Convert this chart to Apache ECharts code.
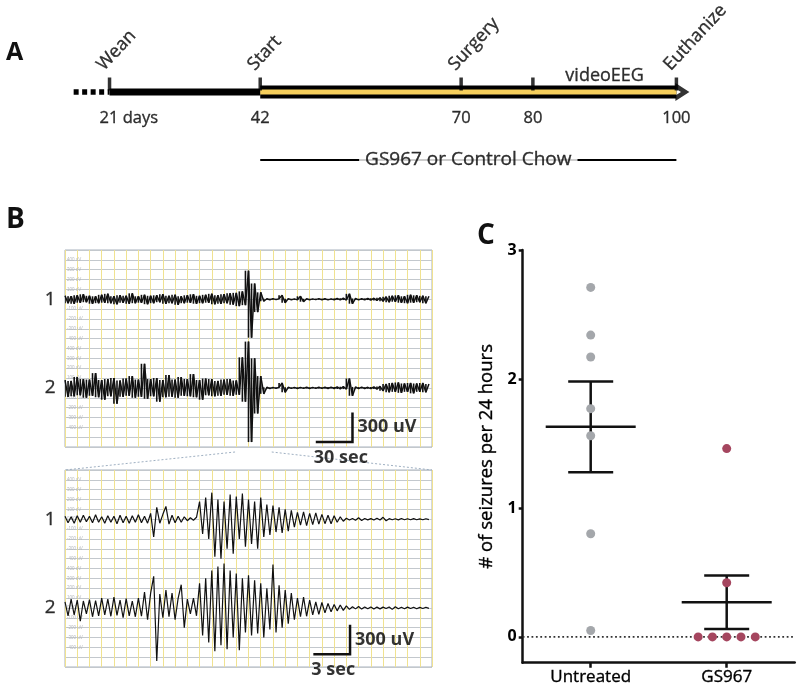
<!DOCTYPE html>
<html><head><meta charset="utf-8">
<script src="https://cdn.jsdelivr.net/npm/echarts@6/dist/echarts.min.js"></script>
<style>html,body{margin:0;padding:0;background:#fff}#c{width:800px;height:686px}</style>
</head><body><div id="c"></div>
<script>
// ---------------- DATA ----------------
// Panel A: experimental timeline (days of age)
const timelineDays = [21, 42, 70, 80, 100];
const timelineEvents = ['Wean', 'Start', 'Surgery', '', 'Euthanize'];
const timelineDayLabels = ['21 days', '42', '70', '80', '100'];
const preWeanDays = [16, 21];
const weanToStartDays = [21, 42];
const treatmentDays = [42, 100];
const videoEEGDays = [80, 100];
const videoEEGLabel = 'videoEEG';
const chowLabel = 'GS967 or Control Chow';

// Panel B: EEG traces (uV deviation from channel baseline)
const eegTopStepSec = 2.5;
const eegTopCh1 = [35,-40,30,-45,40,-35,50,-30,35,-45, 30,-40,45,-35,55,-40,30,-50,40,-35, 35,-45,60,-40,30,-35,45,-50,35,-40, 40,-30,50,-45,35,-40,45,-55,30,-40, 40,-35,50,-45,35,-40,45,-35,55,-50, 40,-45,50,-40,60,-55,
  65,-70,80,-60, 290,-390,160,-130,70,-20,
  5,-5,6,-4,5,40,-35,6,-5,4,-6,30,-25,5,-5,4,-4,6,-5,5,-6,4,-5,8,-6,10,-8,55,-45,8,-6,5,-5,8,-8,10,-12,15,
  -20,25,-30,35,-25,40,-35,30,-40,45,-35,40,-30,35,-40,30];
const eegTopCh2 = [80,-90,70,-85,110,-75,90,-100,85,-80, 150,-95,80,-120,90,-85,100,-160,75,-90, 95,-80,120,-100,85,-90,245,-110,90,-85, 100,-140,80,-95,130,-90,85,-100,110,-80, 90,-85,140,-95,80,-120,95,-75,90,-85, 70,-80,85,-70,90,-80,75,-70,
  310,-140, 470,-550,300,-260,120,-60,
  6,-6,5,-5,6,50,-45,6,-5,5,-6,5,-5,6,-6,5,-5,6,-5,6,-6,8,-6,10,-10,12,-12,95,-80,10,-8,8,-6,6,-8,10,-12,15,
  -30,40,-45,50,-40,55,-50,45,-40,50,-55,45,-40,50,-45,40];
const eegZoomStepSec = 0.25;
const eegZoomCh1 = [30,-35,25,-40,35,-30,40,-25,30,-35,45,-30,25,-40,35,-30,30,-45,40,-35,30,-40,35,-30,45,-35,30,-40,
  60,-180,120,-40,50,130,-50,40,-35,30,-30,25,-15,15,-10,20,
  180,-150,220,-200,270,-380,200,-400,180,-300,250,-350,230,-200,260,-280,200,-250,180,-300,220,-180,150,-160,140,-130,120,-140,100,-120,90,-80,
  70,-60,75,-65,60,-55,65,-50,50,-45,40,-45,35,-30,25,-20,
  10,-8,8,-10,15,-12,8,-6,6,-8,10,-8,20,-15,6,-5,5,-6,8,-5,5,-5,6,-5,4,-5,5,-4];
const eegZoomCh2 = [60,-80,90,-70,80,-135,70,-60,85,-90, 75,-80,100,-70,90,-85,110,-75,80,-100, 95,-80,70,-90,100,-85,160,-120,150,320, -540,140,-100,180,-90,150,-120,100,235,-200, 90,-60,100,-80,
  250,-280,300,-350,380,-440,420,-380,450,-420, 380,-300,350,-430,300,-250,330,-280,280,-260, 250,-300,200,-220,440,-250,230,-200,180,-160, 150,
  -120,100,-90,110,-85,80,-70,60,-65,55,-50,45,-40,35,-30,30,-25,20,
  -15,12,-10,15,-12,10,-8,10,-12,8,-10,8,-6,10,-15,12,-8,6,-8,8,-6,6,-8,5,-6,6,-5];
const eegZoomWindowSec = [139, 169];
const channelNames = ['1', '2'];
const scaleTop = { sec: 30, uV: 300, secLabel: '30 sec', uVLabel: '300 uV' };
const scaleZoom = { sec: 3, uV: 300, secLabel: '3 sec', uVLabel: '300 uV' };

// Panel C: seizures per 24 h
const groupNames = ['Untreated', 'GS967'];
const untreatedValues = [2.71, 2.34, 2.17, 1.77, 1.56, 0.80, 0.05];
const gs967Values = [1.46, 0.42, 0, 0, 0, 0, 0];
const yTicksC = [0, 1, 2, 3];
const yAxisNameC = '# of seizures per 24 hours';

// ---------------- LAYOUT / STYLE ----------------
const F = 'Open Sans';
const INK = '#000';
const THICK = { textBorderColor: '#000', textBorderWidth: 0.35 };
const LA = { evtY: 71, lineY: 92, dayY: 118, videoY: 76, chowY: 160 };
const CH_BASE = [1500, 600];
const TOP_SCALE_AT = [235, 50];
const ZOOM_SCALE_AT = [23.3, 130];
const GRID_YELLOW = '#f0e290';
const GRID_GRAY = '#c3c8cd';

function stats(arr) {
  const n = arr.length, m = arr.reduce((a, b) => a + b, 0) / n;
  const sd = Math.sqrt(arr.reduce((a, b) => a + (b - m) * (b - m), 0) / (n - 1));
  const se = sd / Math.sqrt(n);
  return [m, m - se, m + se];
}
function swarm(values, center, step) {
  const counts = {}, seen = {};
  values.forEach(v => counts[v] = (counts[v] || 0) + 1);
  return values.map(v => {
    const k = counts[v]; const j = seen[v] = (seen[v] === undefined ? 0 : seen[v] + 1);
    return [center + (j - (k - 1) / 2) * step, v];
  });
}
function trace(values, step, base) { return values.map((v, i) => [i * step, base + v]); }

const groupX = [1, 3];
const groups = [untreatedValues, gs967Values];
const statData = groups.map((g, i) => [groupX[i], ...stats(g)]);

const chart = echarts.init(document.getElementById('c'));
const txt = (size, extra) => Object.assign({ fontFamily: F, fontSize: size, color: INK }, THICK, extra || {});

const series = [];
// ---- Panel A
series.push({ type: 'line', xAxisIndex: 0, yAxisIndex: 0, symbol: 'none', data: preWeanDays.map(d => [d, LA.lineY]),
  lineStyle: { color: '#000', width: 5.5, type: [5, 3.5], cap: 'butt' }, z: 2 });
series.push({ type: 'line', xAxisIndex: 0, yAxisIndex: 0, symbol: 'none', data: weanToStartDays.map(d => [d, LA.lineY]),
  lineStyle: { color: '#000', width: 7, cap: 'butt' }, z: 2 });
series.push({ type: 'line', xAxisIndex: 0, yAxisIndex: 0, symbol: 'none', data: treatmentDays.map(d => [d, LA.lineY]),
  lineStyle: { color: '#000', width: 13, cap: 'butt' }, z: 2 });
series.push({ type: 'line', xAxisIndex: 0, yAxisIndex: 0, symbol: 'none', data: treatmentDays.map(d => [d, LA.lineY]),
  lineStyle: { color: '#f6cf5c', width: 5, cap: 'butt' }, z: 3 });
series.push({ type: 'scatter', xAxisIndex: 0, yAxisIndex: 0, data: [[treatmentDays[1], LA.lineY]],
  symbol: 'path://M0,0 L10,9 L0,18 L0,12.5 L4,9 L0,5.5 Z', symbolSize: [14, 18], symbolOffset: [6, 0], symbolKeepAspect: false,
  itemStyle: { color: '#000' }, z: 4 });
series.push({ type: 'scatter', xAxisIndex: 0, yAxisIndex: 0, data: timelineDays.map(d => [d, LA.lineY]),
  symbol: 'rect', symbolSize: [3.5, 13], symbolOffset: [0, -8], itemStyle: { color: '#000' }, z: 5 });
series.push({ type: 'scatter', xAxisIndex: 0, yAxisIndex: 0, symbolSize: 1, itemStyle: { color: 'transparent' },
  data: timelineDays.map((d, i) => ({ value: [d, LA.dayY], name: timelineDayLabels[i],
    label: i === 0 ? { align: 'left', offset: [-10, 0] } : {} })),
  label: Object.assign({ show: true, position: 'inside', formatter: p => p.name }, txt(16.5)), z: 5 });
series.push({ type: 'scatter', xAxisIndex: 0, yAxisIndex: 0, symbolSize: 1, itemStyle: { color: 'transparent' },
  data: timelineDays.map((d, i) => ({ value: [d, LA.evtY], name: timelineEvents[i] })).filter(o => o.name),
  label: Object.assign({ show: true, position: 'inside', rotate: 47, align: 'left', verticalAlign: 'bottom', offset: [-4, 0], formatter: p => p.name }, txt(18)), z: 5 });
series.push({ type: 'scatter', xAxisIndex: 0, yAxisIndex: 0, symbolSize: 1, itemStyle: { color: 'transparent' },
  data: [{ value: [(videoEEGDays[0] + videoEEGDays[1]) / 2, LA.videoY], name: videoEEGLabel }],
  label: Object.assign({ show: true, position: 'inside', formatter: p => p.name }, txt(18)), z: 5 });
series.push({ type: 'line', xAxisIndex: 0, yAxisIndex: 0, symbol: 'none', data: treatmentDays.map(d => [d, LA.chowY]),
  lineStyle: { color: '#000', width: 2 }, z: 2 });
series.push({ type: 'scatter', xAxisIndex: 0, yAxisIndex: 0, symbolSize: 1, itemStyle: { color: 'transparent' },
  data: [{ value: [(treatmentDays[0] + treatmentDays[1]) / 2, LA.chowY], name: chowLabel }],
  label: Object.assign({ show: true, position: 'inside', formatter: p => p.name, backgroundColor: '#fff', padding: [2, 6] }, txt(19)), z: 6 });

// ---- Panel B
// compressed (5 min) view: zigzag trace plus a hairline column spanning each pair of successive samples
function columns(axis, vals, step, base) {
  const data = vals.slice(0, -1).map((v, i) => [i * step, base + v, base + vals[i + 1]]);
  return { type: 'custom', xAxisIndex: axis, yAxisIndex: axis, data, z: 3, clip: true,
    renderItem(params, api) {
      const a = api.coord([api.value(0), api.value(1)]), b = api.coord([api.value(0), api.value(2)]);
      return { type: 'line', shape: { x1: a[0], y1: a[1], x2: b[0], y2: b[1] }, style: { stroke: '#111', lineWidth: 1.6 } };
    } };
}
const eegSets = [
  { axis: 1, step: eegTopStepSec, chans: [eegTopCh1, eegTopCh2], scale: scaleTop, at: TOP_SCALE_AT, dense: true },
  { axis: 2, step: eegZoomStepSec, chans: [eegZoomCh1, eegZoomCh2], scale: scaleZoom, at: ZOOM_SCALE_AT, dense: false }
];
eegSets.forEach(s => {
  s.chans.forEach((c, k) => {
    series.push({ type: 'line', xAxisIndex: s.axis, yAxisIndex: s.axis, symbol: 'none', data: trace(c, s.step, CH_BASE[k]),
      lineStyle: { color: '#111', width: s.dense ? 1.5 : 1.2 }, z: 3, sampling: null });
    if (s.dense) series.push(columns(s.axis, c, s.step, CH_BASE[k]));
  });
  series.push({ type: 'scatter', xAxisIndex: s.axis, yAxisIndex: s.axis, symbolSize: 1, itemStyle: { color: 'transparent' },
    data: channelNames.map((n, k) => ({ value: [0, CH_BASE[k]], name: n })),
    label: Object.assign({ show: true, position: 'left', distance: 9, formatter: p => p.name }, txt(19)), z: 5 });
  const [xe, yb] = s.at;
  series.push({ type: 'line', xAxisIndex: s.axis, yAxisIndex: s.axis, symbol: 'none',
    data: [[xe - s.scale.sec, yb], [xe, yb], [xe, yb + s.scale.uV]],
    lineStyle: { color: '#111', width: 2.5, join: 'miter' }, z: 6 });
  series.push({ type: 'scatter', xAxisIndex: s.axis, yAxisIndex: s.axis, symbolSize: 1, itemStyle: { color: 'transparent' },
    data: [
      { value: [xe, yb + s.scale.uV / 2], name: s.scale.uVLabel, label: { align: 'left', verticalAlign: 'middle', offset: [5, 0] } },
      { value: [xe - s.scale.sec, yb], name: s.scale.secLabel, label: { align: 'left', verticalAlign: 'top', offset: [-2, 7] } }
    ],
    label: Object.assign({ show: true, position: 'inside', formatter: p => p.name }, txt(18, { fontWeight: 'bold', textBorderWidth: 0 })), z: 7 });
});

// ---- Panel C
series.push({ type: 'line', xAxisIndex: 3, yAxisIndex: 3, symbol: 'none', data: [[0, 0], [4, 0]],
  lineStyle: { color: '#333', width: 1.8, type: [1.8, 2.6] }, z: 2 });
series.push({ type: 'custom', xAxisIndex: 3, yAxisIndex: 3, data: statData, z: 3,
  renderItem(params, api) {
    const x = api.value(0);
    const m = api.coord([x, api.value(1)]), lo = api.coord([x, api.value(2)]), hi = api.coord([x, api.value(3)]);
    const st = { stroke: '#111', lineWidth: 2.5 };
    const hm = 45, hc = 22.5;
    return { type: 'group', children: [
      { type: 'line', shape: { x1: m[0] - hm, y1: m[1], x2: m[0] + hm, y2: m[1] }, style: st },
      { type: 'line', shape: { x1: lo[0], y1: lo[1], x2: hi[0], y2: hi[1] }, style: st },
      { type: 'line', shape: { x1: lo[0] - hc, y1: lo[1], x2: lo[0] + hc, y2: lo[1] }, style: st },
      { type: 'line', shape: { x1: hi[0] - hc, y1: hi[1], x2: hi[0] + hc, y2: hi[1] }, style: st }
    ] };
  } });
const dotColors = ['#a4a7ab', '#a5465f'];
groups.forEach((g, i) => {
  series.push({ type: 'scatter', xAxisIndex: 3, yAxisIndex: 3, data: swarm(g, groupX[i], 0.21),
    symbolSize: 9, itemStyle: { color: dotColors[i], opacity: 1 }, z: 4 });
});

const eegTinyLabel = v => {
  const base = v >= 1050 ? CH_BASE[0] : CH_BASE[1];
  const d = v - base;
  return Math.abs(d) > 400 ? '' : (d === 0 ? '0.00' : d + ' uV');
};
const eegY = gi => ({ gridIndex: gi, type: 'value', min: 0, max: 2000, interval: 100, axisLine: { show: false }, axisTick: { show: false },
  axisLabel: { show: true, inside: true, formatter: eegTinyLabel, fontSize: 4.5, color: '#b5b9bd', margin: 2 },
  splitLine: { show: true, lineStyle: { color: GRID_GRAY, width: 1 } } });
const option = {
  animation: false,
  backgroundColor: '#fff',
  grid: [
    { left: 30.6, top: 0, width: 645.8, height: 180 },
    { left: 65, top: 250, width: 367, height: 197, show: true, borderColor: '#a8b3bf', borderWidth: 1 },
    { left: 65, top: 470, width: 367, height: 197, show: true, borderColor: '#a8b3bf', borderWidth: 1 },
    { left: 522.7, top: 250, width: 272, height: 412.7 }
  ],
  xAxis: [
    { gridIndex: 0, type: 'value', min: 10, max: 100, show: false },
    { gridIndex: 1, type: 'value', min: 0, max: 300, interval: 10, axisLine: { show: false }, axisTick: { show: false }, axisLabel: { show: false },
      splitLine: { show: true, lineStyle: { color: GRID_YELLOW, width: 1 } } },
    { gridIndex: 2, type: 'value', min: 0, max: 30, interval: 1, axisLine: { show: false }, axisTick: { show: false }, axisLabel: { show: false },
      splitLine: { show: true, lineStyle: { color: GRID_YELLOW, width: 1 } } },
    { gridIndex: 3, type: 'value', min: 0, max: 4,
      axisLine: { show: true, onZero: false, lineStyle: { color: '#111', width: 2.5 } },
      axisTick: { show: true, customValues: groupX, length: 5, lineStyle: { color: '#111', width: 2.5 } },
      axisLabel: Object.assign({ show: true, customValues: groupX, formatter: v => groupNames[groupX.indexOf(v)], margin: 6 }, txt(17)),
      splitLine: { show: false } }
  ],
  yAxis: [
    { gridIndex: 0, type: 'value', min: 0, max: 180, inverse: true, show: false },
    eegY(1), eegY(2),
    { gridIndex: 3, type: 'value', min: -0.2, max: 3,
      axisLine: { show: true, onZero: false, lineStyle: { color: '#111', width: 2.5 } },
      axisTick: { show: true, customValues: yTicksC, length: 4, lineStyle: { color: '#111', width: 2.5 } },
      axisLabel: Object.assign({ show: true, customValues: yTicksC, formatter: v => String(v), margin: 6 }, txt(16, { fontWeight: 'bold', textBorderWidth: 0 })),
      splitLine: { show: false },
      name: yAxisNameC, nameLocation: 'middle', nameGap: 26, nameTextStyle: txt(18.5) }
  ],
  series
};
chart.setOption(option);

// connectors (zoom window) and panel letters
const pA = chart.convertToPixel({ xAxisIndex: 1, yAxisIndex: 1 }, [eegZoomWindowSec[0], 0]);
const pB = chart.convertToPixel({ xAxisIndex: 1, yAxisIndex: 1 }, [eegZoomWindowSec[1], 0]);
const zL = chart.convertToPixel({ xAxisIndex: 2, yAxisIndex: 2 }, [0, 2000]);
const zR = chart.convertToPixel({ xAxisIndex: 2, yAxisIndex: 2 }, [30, 2000]);
const dash = { stroke: '#9fb0c2', lineWidth: 1, lineDash: [2, 2] };
chart.setOption({ graphic: [
  { type: 'line', shape: { x1: pA[0], y1: pA[1] + 5, x2: zL[0], y2: zL[1] }, style: dash },
  { type: 'line', shape: { x1: pB[0], y1: pB[1] + 5, x2: zR[0], y2: zR[1] }, style: dash },
  { type: 'text', left: 6, top: 40, style: { text: 'A', fontFamily: F, fontSize: 25, fontWeight: 'bold', fill: '#111' } },
  { type: 'text', left: 6, top: 206, style: { text: 'B', fontFamily: F, fontSize: 28, fontWeight: 'bold', fill: '#111' } },
  { type: 'text', left: 477, top: 222, style: { text: 'C', fontFamily: F, fontSize: 28, fontWeight: 'bold', fill: '#111' } }
] });
</script></body></html>
